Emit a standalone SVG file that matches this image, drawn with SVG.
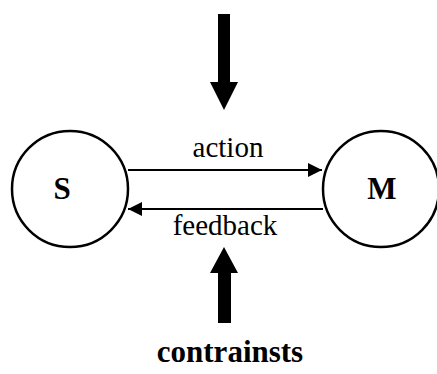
<svg xmlns="http://www.w3.org/2000/svg" width="437" height="374" viewBox="0 0 437 374">
<defs>
<style>
.node{fill:#fff;stroke:#000;stroke-width:2.5}
.lbl{font-family:"Liberation Serif","Times New Roman",serif;fill:#000}
.b{font-weight:bold}
.conn{stroke:#000;stroke-width:2;fill:none}
.big{fill:#000}
</style>
<marker id="ah" viewBox="0 0 14 14" refX="14" refY="7" markerWidth="14" markerHeight="14" markerUnits="userSpaceOnUse" orient="auto">
<path d="M0,0 L14,7 L0,14 z" fill="#000"/>
</marker>
</defs>
<rect width="437" height="374" fill="#fff"/>
<g id="S">
<circle class="node" cx="70" cy="189" r="58"/>
<text class="lbl b" x="62" y="199" font-size="31" text-anchor="middle">S</text>
</g>
<g id="M">
<circle class="node" cx="381" cy="189" r="58"/>
<text class="lbl b" x="382" y="199" font-size="31" text-anchor="middle">M</text>
</g>
<g id="connectors">
<line class="conn" x1="128" y1="170" x2="322" y2="170" marker-end="url(#ah)"/>
<text class="lbl" x="228" y="157" font-size="29" text-anchor="middle">action</text>
<line class="conn" x1="323" y1="209" x2="128" y2="209" marker-end="url(#ah)"/>
<text class="lbl" x="225" y="235" font-size="29" text-anchor="middle">feedback</text>
<path class="big" d="M218,14 H230 V82 H238 L224,110 L210,82 H218 Z"/>
<path class="big" d="M218,323 H231 V273 H238 L224,247 L210,273 H218 Z"/>
</g>
<g id="constraints">
<text class="lbl b" x="230" y="362" font-size="31" text-anchor="middle">contrainsts</text>
</g>
</svg>
